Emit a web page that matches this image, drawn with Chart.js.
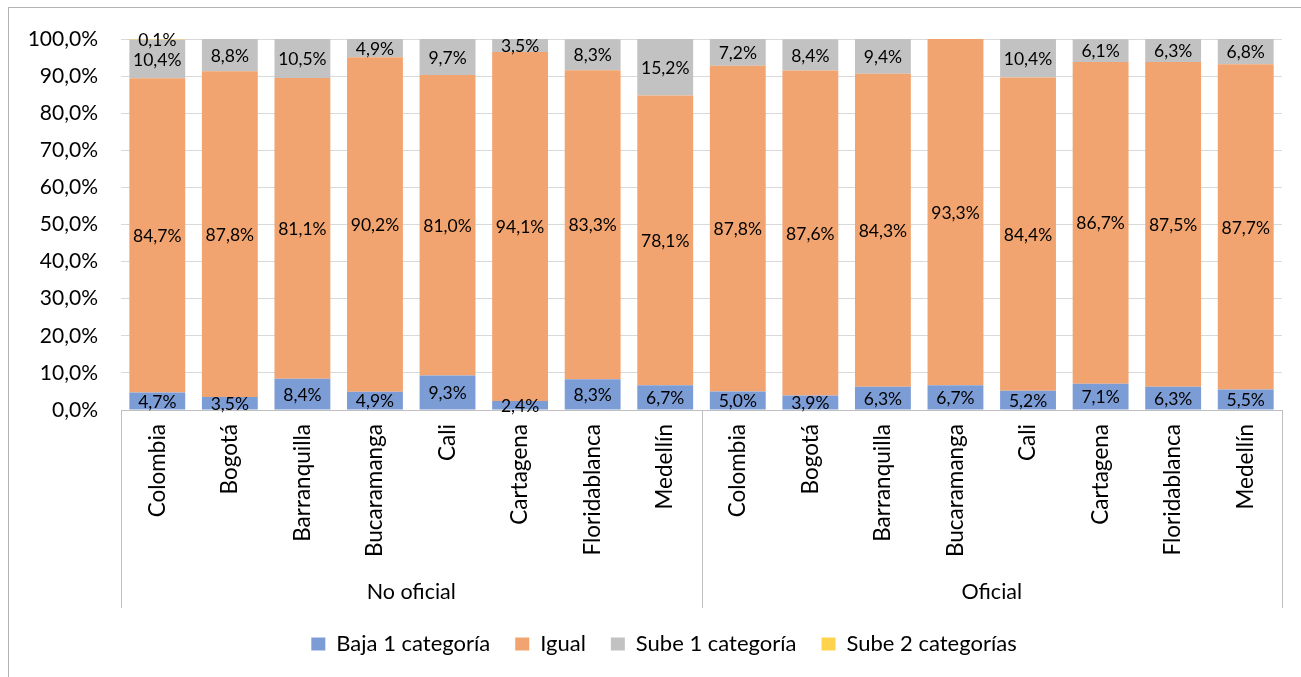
<!DOCTYPE html>
<html><head><meta charset="utf-8">
<script src="https://cdn.jsdelivr.net/npm/chart.js@4.4.1/dist/chart.umd.min.js"></script>
<style>
html,body{margin:0;padding:0;background:#fff;}
#wrap{position:relative;width:1301px;height:677px;overflow:hidden;background:#fff;}
#frame{position:absolute;left:8px;top:7px;width:1400px;height:800px;border-top:1px solid #b4b4b4;border-left:1px solid #b4b4b4;pointer-events:none;}
canvas{position:absolute;left:0;top:0;}
</style></head><body>
<div id="wrap"><canvas id="c" width="1301" height="677"></canvas><div id="frame"></div></div>
<script>
const categories = ['Colombia','Bogotá','Barranquilla','Bucaramanga','Cali','Cartagena','Floridablanca','Medellín',
                    'Colombia','Bogotá','Barranquilla','Bucaramanga','Cali','Cartagena','Floridablanca','Medellín'];
const groups = ['No oficial','Oficial'];
const seriesNames = ['Baja 1 categoría','Igual','Sube 1 categoría','Sube 2 categorías'];
const baja1 = [4.7,3.5,8.4,4.9,9.3,2.4,8.3,6.7, 5.0,3.9,6.3,6.7,5.2,7.1,6.3,5.5];
const igual = [84.7,87.8,81.1,90.2,81.0,94.1,83.3,78.1, 87.8,87.6,84.3,93.3,84.4,86.7,87.5,87.7];
const sube1 = [10.4,8.8,10.5,4.9,9.7,3.5,8.3,15.2, 7.2,8.4,9.4,0,10.4,6.1,6.3,6.8];
const sube2 = [0.1,0,0,0,0,0,0,0, 0.04,0,0,0,0,0,0,0];
const yTickLabels = ['0,0%','10,0%','20,0%','30,0%','40,0%','50,0%','60,0%','70,0%','80,0%','90,0%','100,0%'];
const colors = ['#7C9CD6','#F1A46F','#C2C2C2','#FFD34D'];

const FONT = "Lato, 'Open Sans', sans-serif";

const extras = {
  id: 'extras',
  afterDatasetsDraw(chart) {
    const ctx = chart.ctx;
    ctx.save();
    ctx.font = '17.5px ' + FONT;
    ctx.fillStyle = '#000';
    ctx.textAlign = 'center';
    ctx.textBaseline = 'middle';
    chart.data.datasets.forEach((ds, i) => {
      const meta = chart.getDatasetMeta(i);
      meta.data.forEach((bar, j) => {
        const v = ds.data[j];
        if (v < 0.05) return;
        const txt = v.toFixed(1).replace('.', ',') + '%';
        const top = Math.max(bar.y, chart.chartArea.top);
        ctx.fillText(txt, bar.x, (top + bar.base) / 2 + 1);
      });
    });
    ctx.restore();
  },
  afterDraw(chart) {
    const ctx = chart.ctx;
    const x = chart.scales.x, x2 = chart.scales.x2;
    const n = categories.length;
    const mid = (x.getPixelForTick(n / 2 - 1) + x.getPixelForTick(n / 2)) / 2;
    const xs = [chart.chartArea.left, mid, chart.chartArea.right];
    ctx.save();
    ctx.strokeStyle = '#bfbfbf';
    ctx.lineWidth = 1;
    xs.forEach(px => {
      const p = Math.round(px) + 0.5;
      ctx.beginPath();
      ctx.moveTo(p, x.top);
      ctx.lineTo(p, x2.bottom);
      ctx.stroke();
    });
    ctx.restore();
  }
};

new Chart(document.getElementById('c'), {
  type: 'bar',
  data: {
    labels: categories,
    datasets: [
      { label: seriesNames[0], data: baja1, backgroundColor: colors[0] },
      { label: seriesNames[1], data: igual, backgroundColor: colors[1] },
      { label: seriesNames[2], data: sube1, backgroundColor: colors[2] },
      { label: seriesNames[3], data: sube2, backgroundColor: colors[3] }
    ].map(d => Object.assign(d, { borderWidth: 0, categoryPercentage: 1, barPercentage: 0.77 }))
  },
  options: {
    responsive: false,
    animation: false,
    devicePixelRatio: 1,
    layout: { padding: { top: 39, right: 0, left: 27, bottom: 12 } },
    plugins: {
      legend: {
        position: 'bottom',
        labels: { font: { family: FONT, size: 22 }, color: '#000', boxWidth: 14, boxHeight: 13, padding: 25 }
      },
      tooltip: { enabled: false }
    },
    scales: {
      x: {
        stacked: true,
        weight: 0,
        grid: { display: false, drawTicks: false },
        border: { display: true, color: '#bfbfbf' },
        ticks: { autoSkip: false, minRotation: 90, maxRotation: 90, padding: 14, color: '#000', font: { family: FONT, size: 22.5 } },
        afterFit(s) { s.height = 152; }
      },
      x2: {
        type: 'category',
        labels: groups,
        position: 'bottom',
        offset: true,
        weight: 1,
        grid: { display: false, drawTicks: false },
        border: { display: false },
        ticks: { autoSkip: false, maxRotation: 0, padding: 17, color: '#000', font: { family: FONT, size: 21.5 } },
        afterFit(s) { s.height = 46; }
      },
      y: {
        stacked: true,
        min: 0, max: 100,
        grid: { color: '#d9d9d9', drawTicks: false },
        border: { display: false },
        ticks: { stepSize: 10, padding: 23, color: '#000', font: { family: FONT, size: 21 },
                 callback: (v, i) => yTickLabels[i] },
        afterFit(s) { s.width = 94; }
      },
      yRight: {
        type: 'linear',
        position: 'right',
        grid: { display: false, drawTicks: false },
        border: { display: false },
        ticks: { display: false },
        afterFit(s) { s.width = 19; }
      }
    }
  },
  plugins: [extras]
});
</script>
</body></html>
